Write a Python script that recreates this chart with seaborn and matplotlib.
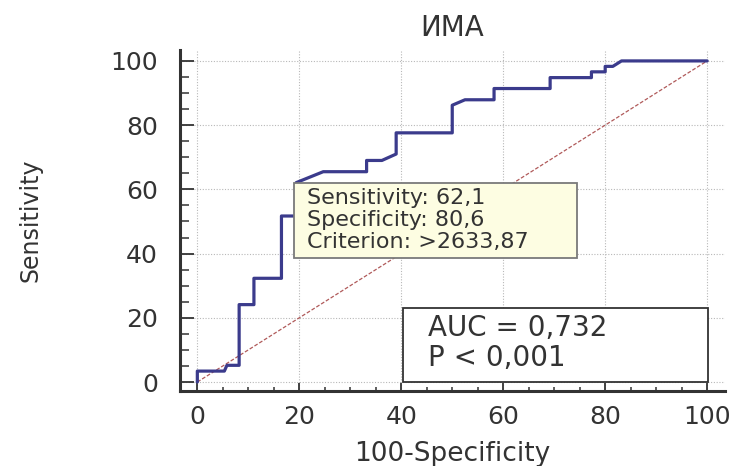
import matplotlib
matplotlib.use("Agg")
import matplotlib.pyplot as plt
from matplotlib.patches import Rectangle
from matplotlib.ticker import MultipleLocator
import seaborn as sns
import pandas as pd

# ROC curve vertices
fpr = [0, 0, 5.3, 5.8, 8.2, 8.2, 11.1, 11.1, 16.5, 16.5, 19.4, 19.4, 24.7, 33.2, 33.2,
       36.2, 39.0, 39.0, 50.0, 50.0, 52.5, 58.2, 58.2, 69.2, 69.2, 77.3, 77.3, 80.0,
       80.0, 81.5, 83.2, 100]
tpr = [0, 3.4, 3.4, 5.2, 5.2, 24.1, 24.1, 32.3, 32.3, 51.7, 51.7, 62.1, 65.5, 65.5, 69.0,
       69.0, 71.0, 77.6, 77.6, 86.2, 87.9, 87.9, 91.4, 91.4, 94.8, 94.8, 96.6, 96.6,
       98.3, 98.3, 100, 100]
diag = [0, 100]
ticks = [0, 20, 40, 60, 80, 100]

title = "ИМА"
xlabel = "100-Specificity"
ylabel = "Sensitivity"
tooltip = ["Sensitivity: 62,1", "Specificity: 80,6", "Criterion: >2633,87"]
auc_lines = ["AUC = 0,732", "P < 0,001"]

sns.set_style("white")
plt.rcParams["font.family"] = ["DejaVu Sans"]

fig = plt.figure(figsize=(7.39, 4.66), dpi=100)
ax = fig.add_axes([180 / 739, 1 - 391 / 466, (725 - 180) / 739, (391 - 50) / 466])

roc = pd.DataFrame({"x": fpr, "y": tpr})
ref = pd.DataFrame({"x": diag, "y": diag})

sns.lineplot(data=ref, x="x", y="y", ax=ax, color="#b05a5a", lw=0.9,
             linestyle=(0, (3, 1.5)), zorder=2)
sns.lineplot(data=roc, x="x", y="y", ax=ax, sort=False, estimator=None,
             color="#3b3b8c", lw=2.3, zorder=3)

ax.set_xlim(-3.4, 103.5)
ax.set_ylim(-2.8, 103.4)
ax.set_xticks(ticks)
ax.set_yticks(ticks)
ax.set_xticklabels([str(t) for t in ticks])
ax.set_yticklabels([str(t) for t in ticks])
ax.xaxis.set_minor_locator(MultipleLocator(5))
ax.yaxis.set_minor_locator(MultipleLocator(5))

ax.grid(True, which="major", color="#b8b8b8", linestyle=(0, (1, 1.5)), lw=0.8)
ax.set_axisbelow(True)

for s in ["top", "right"]:
    ax.spines[s].set_visible(False)
for s in ["left", "bottom"]:
    ax.spines[s].set_color("#333333")
    ax.spines[s].set_linewidth(2.2)

ax.tick_params(axis="y", which="major", direction="in", left=True, length=10, width=1.3,
               colors="#333333", labelsize=18, pad=16)
ax.tick_params(axis="y", which="minor", direction="in", left=True, length=6.5, width=1.1,
               colors="#333333")
ax.tick_params(axis="x", which="major", direction="in", bottom=True, length=6, width=1.3,
               colors="#333333", labelsize=18, pad=10)
ax.tick_params(axis="x", which="minor", direction="in", bottom=True, length=3, width=1.1,
               colors="#333333")

ax.set_title(title, fontsize=20, color="#333333", pad=10)
ax.set_xlabel(xlabel, fontsize=19, color="#333333", labelpad=9)
ax.set_ylabel(ylabel, fontsize=17, color="#333333")
ax.yaxis.set_label_coords(-0.252, 0.5)

# tooltip box
ax.add_patch(Rectangle((19.0, 38.6), 55.4, 23.3, facecolor="#fdfde2",
                       edgecolor="#7a7a7a", lw=1.3, zorder=4))
for txt, yy in zip(tooltip, [57.4, 50.5, 43.7]):
    ax.text(21.5, yy, txt, fontsize=16, color="#333333", va="center", ha="left",
            zorder=5)

# AUC box
ax.add_patch(Rectangle((40.3, 0), 59.8, 23.0, facecolor="white",
                       edgecolor="#333333", lw=1.3, zorder=4))
for txt, yy in zip(auc_lines, [16.8, 7.6]):
    ax.text(45.2, yy, txt, fontsize=20, color="#333333", va="center", ha="left",
            zorder=5)

fig.savefig("out.png", dpi=100)
